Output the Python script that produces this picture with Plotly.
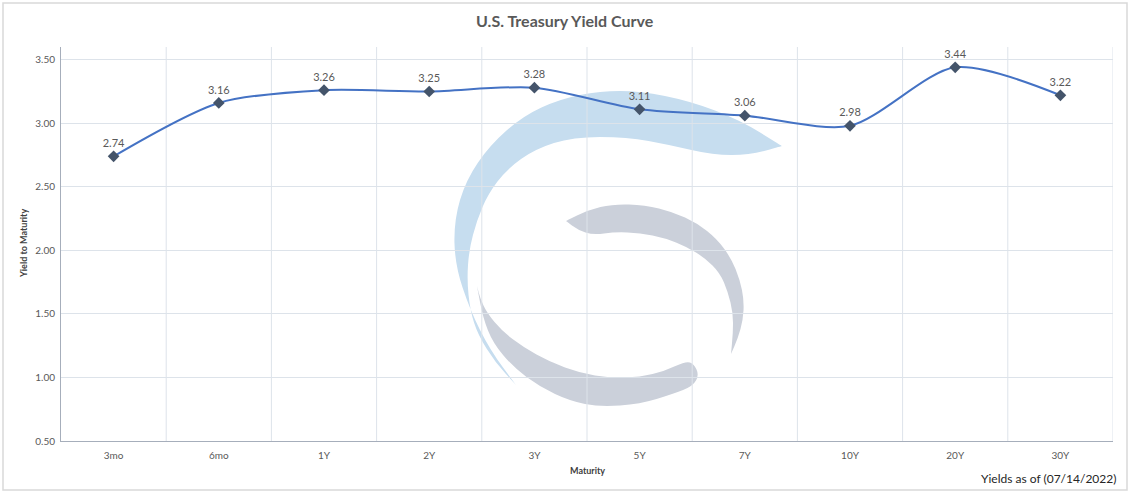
import plotly.graph_objects as go

# Yield data
maturities = ["3mo", "6mo", "1Y", "2Y", "3Y", "5Y", "7Y", "10Y", "20Y", "30Y"]
yields = [2.74, 3.16, 3.26, 3.25, 3.28, 3.11, 3.06, 2.98, 3.44, 3.22]
y_ticks = [0.5, 1.0, 1.5, 2.0, 2.5, 3.0, 3.5]

W, H = 1130, 493
L, R, T, B = 61, 1113, 47, 441


def px(X, Y):
    # pixel position -> paper coords
    return (X - L) / (R - L), (B - Y) / (B - T)


def path(pts):
    # closed path, smoothed with quadratic curves through midpoints
    P = [px(X, Y) for X, Y in pts]
    n = len(P)
    mids = [((P[i][0] + P[(i + 1) % n][0]) / 2, (P[i][1] + P[(i + 1) % n][1]) / 2)
            for i in range(n)]
    s = f"M{mids[-1][0]:.4f},{mids[-1][1]:.4f} "
    for i in range(n):
        s += f"Q{P[i][0]:.4f},{P[i][1]:.4f} {mids[i][0]:.4f},{mids[i][1]:.4f} "
    return s + "Z"


# watermark logo outlines (pixels)
blue_arc = [(516, 385), (516, 385), (490, 350), (470, 310), (455, 265), (454, 220),
            (466, 180), (490, 145), (523, 116), (560, 99), (600, 91), (640, 91),
            (690, 101), (740, 120), (782, 146), (782, 146), (750, 155), (713, 155),
            (670, 145), (627, 137), (573, 137), (535, 149), (507, 169), (488, 194),
            (477, 220), (469, 250), (467, 280), (470, 310), (478, 335), (495, 362)]
gray_low = [(477, 286), (477, 286), (483, 318), (493, 343), (513, 367), (540, 387),
            (570, 401), (600, 407), (640, 404), (673, 394), (693, 386), (699, 375),
            (694, 364), (686, 361), (665, 371), (640, 377), (610, 378), (580, 373),
            (550, 362), (523, 347), (502, 331), (487, 313), (480, 298)]
gray_up = [(566, 221), (566, 221), (588, 210), (613, 204), (645, 205), (673, 212),
           (697, 223), (717, 239), (731, 258), (740, 280), (744, 300), (743, 320),
           (738, 338), (731, 354), (731, 354), (733, 333), (733, 313), (728, 292),
           (720, 273), (705, 258), (687, 247), (665, 238), (640, 233), (615, 232),
           (593, 235), (578, 230)]

fig = go.Figure()

fig.add_trace(go.Scatter(
    x=maturities, y=yields,
    mode="lines+markers+text",
    line=dict(color="#4472c4", width=2, shape="spline", smoothing=0.8),
    marker=dict(symbol="diamond", size=9, color="#44546a"),
    text=[f"{v:.2f}" for v in yields],
    textposition="top center",
    textfont=dict(family="Lato", size=11, color="#595959"),
    cliponaxis=False,
    hoverinfo="x+y",
))

shapes = [
    dict(type="path", path=path(blue_arc), xref="paper", yref="paper",
         fillcolor="#c6ddef", line=dict(width=0), layer="below"),
    dict(type="path", path=path(gray_low), xref="paper", yref="paper",
         fillcolor="#cbd0da", line=dict(width=0), layer="below"),
    dict(type="path", path=path(gray_up), xref="paper", yref="paper",
         fillcolor="#cbd0da", line=dict(width=0), layer="below"),
]
x0, y0 = px(3, 490)
x1, y1 = px(1127, 3)
shapes.append(dict(type="rect", xref="paper", yref="paper", x0=x0, y0=y0, x1=x1, y1=y1,
                   line=dict(color="#d9d9d9", width=1.5), fillcolor="rgba(0,0,0,0)",
                   layer="below"))

ax_title = dict(family="Lato", size=9, color="#404040")
mid = dict(xref="paper", yref="paper", showarrow=False, xanchor="center", yanchor="middle")
annotations = [
    dict(text="<b>U.S. Treasury Yield Curve</b>", x=px(565, 0)[0], y=px(0, 20)[1],
         font=dict(family="Lato", size=16, color="#595959"), **mid),
    dict(text="<b>Yield to Maturity</b>", x=px(23, 0)[0], y=px(0, 244)[1],
         textangle=-90, font=ax_title, **mid),
    dict(text="<b>Maturity</b>", x=px(587, 0)[0], y=px(0, 470)[1],
         font=ax_title, **mid),
    dict(text="Yields as of (07/14/2022)", x=px(1048, 0)[0], y=px(0, 478)[1],
         font=dict(family="Lato", size=12, color="#262626"), **mid),
]

fig.update_layout(
    width=W, height=H,
    margin=dict(l=L, r=W - R, t=T, b=H - B),
    paper_bgcolor="white", plot_bgcolor="white",
    showlegend=False,
    shapes=shapes,
    annotations=annotations,
    xaxis=dict(
        type="category",
        showgrid=False,
        showline=True, linecolor="#a6aebb", linewidth=1,
        ticks="", ticklabelstandoff=5,
        tickfont=dict(family="Lato", size=10, color="#595959"),
        range=[-0.5, len(maturities) - 0.5],
    ),
    yaxis=dict(
        range=[0.5, 3.6],
        tickvals=y_ticks, tickformat=".2f",
        showgrid=True, gridcolor="#dde3ea", gridwidth=1,
        showline=True, linecolor="#a6aebb", linewidth=1,
        zeroline=False, ticks="", ticklabelstandoff=3,
        tickfont=dict(family="Lato", size=10, color="#595959"),
    ),
)

# vertical gridlines between categories
for i in range(1, len(maturities) + 1):
    fig.add_shape(type="line", xref="x", yref="paper", x0=i - 0.5, x1=i - 0.5,
                  y0=0, y1=1, line=dict(color="#dde3ea", width=1), layer="below")

# drop the default page margin so the figure sits at the window origin
fig.write_html("out.html", config={"displayModeBar": False},
               post_script="document.body.style.margin='0';")
